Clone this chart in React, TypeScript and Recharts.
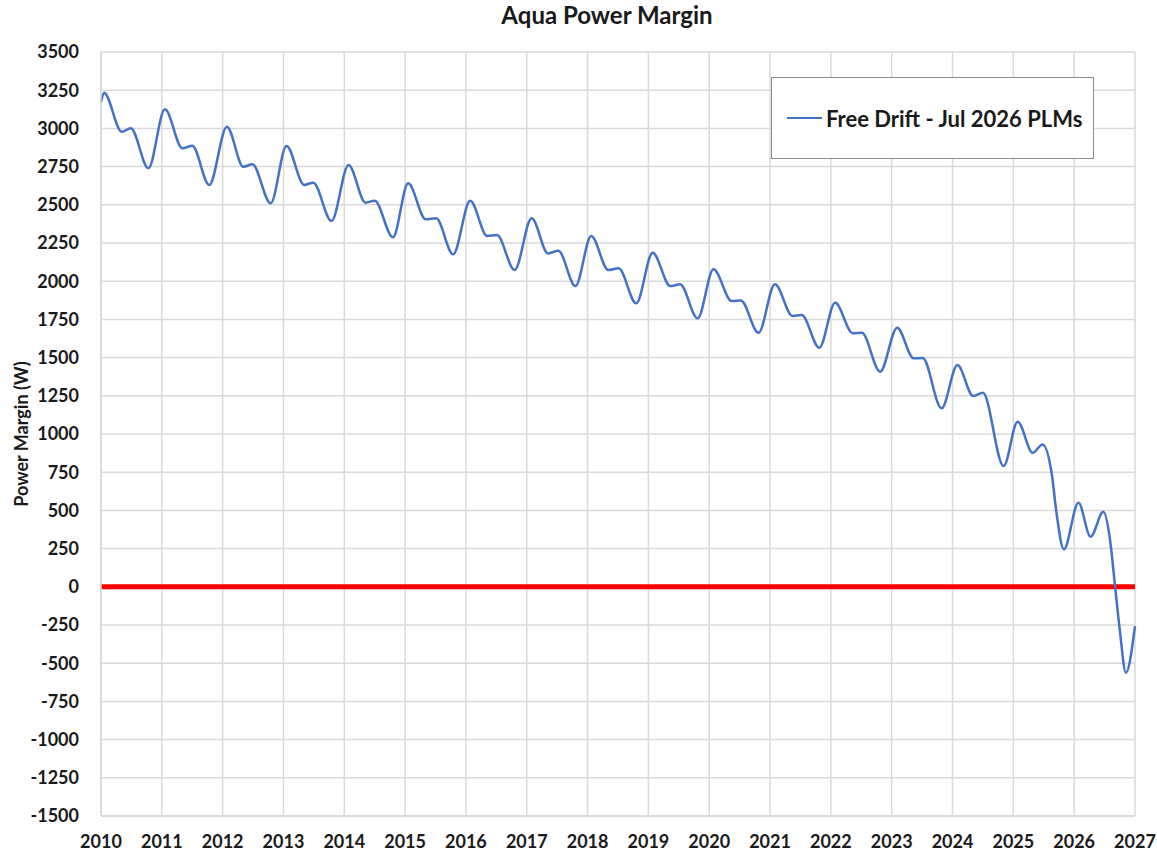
import { CartesianGrid, Line, LineChart, ReferenceLine, XAxis, YAxis } from "recharts";

// decimal year of each point
const years = [
  2010.0, 2010.05, 2010.34, 2010.49, 2010.78,
  2011.05, 2011.34, 2011.5, 2011.78,
  2012.07, 2012.34, 2012.49, 2012.79,
  2013.05, 2013.34, 2013.49, 2013.79,
  2014.07, 2014.35, 2014.5, 2014.8,
  2015.05, 2015.34, 2015.51, 2015.79,
  2016.07, 2016.35, 2016.51, 2016.8,
  2017.08, 2017.35, 2017.52, 2017.8,
  2018.06, 2018.34, 2018.51, 2018.8,
  2019.07, 2019.36, 2019.52, 2019.81,
  2020.07, 2020.37, 2020.52, 2020.81,
  2021.08, 2021.37, 2021.52, 2021.81,
  2022.07, 2022.36, 2022.51, 2022.81,
  2023.09, 2023.36, 2023.51, 2023.82,
  2024.08, 2024.34, 2024.5, 2024.84,
  2025.07, 2025.32, 2025.48, 2025.63, 2025.71, 2025.83,
  2026.07, 2026.27, 2026.48, 2026.59, 2026.67, 2026.75, 2026.85, 2027.0,
];

// power margin in watts, free drift case
const margin = [
  3170, 3234, 2978, 3001, 2739,
  3125, 2870, 2887, 2630,
  3011, 2749, 2765, 2510,
  2885, 2630, 2645, 2394,
  2760, 2514, 2527, 2287,
  2641, 2405, 2412, 2176,
  2527, 2296, 2302, 2073,
  2412, 2182, 2200, 1968,
  2296, 2073, 2084, 1855,
  2186, 1968, 1980, 1757,
  2078, 1870, 1874, 1663,
  1980, 1772, 1778, 1565,
  1859, 1659, 1662, 1408,
  1696, 1495, 1497, 1168,
  1451, 1249, 1270, 790,
  1080, 877, 932, 743, 481, 245,
  550, 328, 491, 306, 12, -283, -562, -257,
];

const yearTicks = [2010, 2011, 2012, 2013, 2014, 2015, 2016, 2017, 2018, 2019, 2020, 2021, 2022, 2023, 2024, 2025, 2026, 2027];
const marginTicks = [3500, 3250, 3000, 2750, 2500, 2250, 2000, 1750, 1500, 1250, 1000, 750, 500, 250, 0, -250, -500, -750, -1000, -1250, -1500];

const data = years.map((year, i) => ({ year, margin: margin[i] }));

const font = "Lato, 'Open Sans', sans-serif";
const ink = "#1a1a1a";

export default function App() {
  return (
    <div style={{ position: "absolute", left: 0, top: 0, width: 1157, height: 853, background: "#fff" }}>
      {/* title */}
      <div
        style={{
          position: "absolute",
          left: 0,
          width: 1214,
          top: 1,
          lineHeight: 1.2,
          textAlign: "center",
          fontFamily: font,
          fontWeight: 700,
          fontSize: 24,
          color: ink,
        }}
      >
        Aqua Power Margin
      </div>

      <LineChart width={1157} height={853} data={data} margin={{ top: 52, right: 22, bottom: 0, left: 0 }}>
        <CartesianGrid stroke="#d9d9d9" strokeWidth={1.5} />
        <XAxis
          dataKey="year"
          type="number"
          domain={[2010, 2027]}
          ticks={yearTicks}
          height={37}
          axisLine={{ stroke: "#d9d9d9", strokeWidth: 1.5 }}
          tickLine={false}
          interval={0}
          tick={{ fill: ink, fontSize: 18, fontWeight: 700, fontFamily: font }}
          tickMargin={13}
        />
        <YAxis
          type="number"
          domain={[-1500, 3500]}
          ticks={marginTicks}
          width={101}
          axisLine={{ stroke: "#d9d9d9", strokeWidth: 1.5 }}
          tickLine={false}
          interval={0}
          tick={{ fill: ink, fontSize: 18, fontWeight: 700, fontFamily: font }}
          tickMargin={16}
          label={{
            value: "Power Margin (W)",
            angle: -90,
            position: "insideLeft",
            offset: 22,
            style: { textAnchor: "middle", fill: ink, fontSize: 18, fontWeight: 700, fontFamily: font },
          }}
        />
        <ReferenceLine y={0} stroke="#ff0000" strokeWidth={5} />
        <Line
          type="monotone"
          dataKey="margin"
          name="Free Drift - Jul 2026 PLMs"
          stroke="#4472C4"
          strokeWidth={2.5}
          dot={false}
          isAnimationActive={false}
        />
      </LineChart>

      {/* legend box */}
      <div
        style={{
          position: "absolute",
          left: 771,
          top: 77,
          width: 323,
          height: 82,
          boxSizing: "border-box",
          border: "1.5px solid #8c8c8c",
          background: "#fff",
          display: "flex",
          alignItems: "center",
          fontFamily: font,
          fontWeight: 700,
          fontSize: 22,
          color: ink,
        }}
      >
        <span style={{ display: "inline-block", width: 35, height: 2.5, background: "#4472C4", marginLeft: 15, marginRight: 4 }} />
        Free Drift - Jul 2026 PLMs
      </div>
    </div>
  );
}
